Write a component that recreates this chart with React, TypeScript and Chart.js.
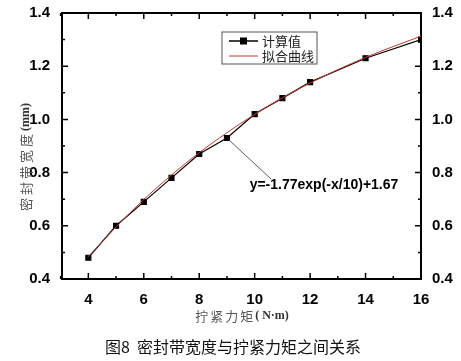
import React, { useEffect, useRef } from "react";
import { Chart, registerables } from "chart.js";

Chart.register(...registerables);

const torque = [4, 5, 6, 7, 8, 9, 10, 11, 12, 14, 16];
const calcWidth = [0.48, 0.6, 0.69, 0.78, 0.87, 0.93, 1.02, 1.08, 1.14, 1.23, 1.3];
const fitWidth = [0.484, 0.596, 0.699, 0.791, 0.875, 0.95, 1.019, 1.081, 1.137, 1.233, 1.313];
const xTicks = [4, 6, 8, 10, 12, 14, 16];
const yTicks = [0.4, 0.6, 0.8, 1.0, 1.2, 1.4];
const legendLabels = ["计算值", "拟合曲线"];
const yTitleCjk = "密封带宽度";
const yTitleUnit = "(mm)";
const xTitleCjk = "拧紧力矩";
const xTitleUnit = "( N·m)";
const caption = "图8  密封带宽度与拧紧力矩之间关系";
const formula = "y=-1.77exp(-x/10)+1.67";

function drawMixed(ctx: any, parts: { t: string; f: string; c: string; ls: number }[], cx: number, cy: number) {
  let total = 0;
  const widths = parts.map((p) => {
    ctx.font = p.f;
    (ctx as any).letterSpacing = p.ls + "px";
    const w = ctx.measureText(p.t).width;
    total += w;
    return w;
  });
  let x = cx - total / 2;
  ctx.textAlign = "left";
  ctx.textBaseline = "middle";
  parts.forEach((p, i) => {
    ctx.font = p.f;
    (ctx as any).letterSpacing = p.ls + "px";
    ctx.fillStyle = p.c;
    ctx.fillText(p.t, x, cy);
    x += widths[i];
  });
  (ctx as any).letterSpacing = "0px";
}

const decor = {
  id: "decor",
  afterDraw(chart: any) {
    const { ctx, chartArea: a, scales } = chart;
    const x = scales.x;
    const y = scales.y;
    ctx.save();
    ctx.strokeStyle = "#000";
    ctx.lineWidth = 1.5;
    for (let v = 3; v <= 16; v += 1) {
      const px = x.getPixelForValue(v);
      const major = xTicks.includes(v);
      const len = major ? 6 : 3;
      ctx.beginPath();
      ctx.moveTo(px, a.bottom);
      ctx.lineTo(px, a.bottom - len);
      ctx.moveTo(px, a.top);
      ctx.lineTo(px, a.top + len);
      ctx.stroke();
    }
    for (let i = 0; i <= 10; i++) {
      const v = 0.4 + i * 0.1;
      const py = y.getPixelForValue(v);
      const len = i % 2 === 0 ? 6 : 3;
      ctx.beginPath();
      ctx.moveTo(a.left, py);
      ctx.lineTo(a.left + len, py);
      ctx.moveTo(a.right, py);
      ctx.lineTo(a.right - len, py);
      ctx.stroke();
    }
    // annotation
    ctx.strokeStyle = "#333";
    ctx.lineWidth = 0.8;
    ctx.beginPath();
    ctx.moveTo(x.getPixelForValue(9.05), y.getPixelForValue(0.925));
    ctx.lineTo(x.getPixelForValue(10.6), y.getPixelForValue(0.775));
    ctx.stroke();
    ctx.fillStyle = "#000";
    ctx.font = "bold 14px 'Liberation Sans', Arial, sans-serif";
    ctx.textAlign = "center";
    ctx.textBaseline = "middle";
    ctx.fillText(formula, x.getPixelForValue(12.5), y.getPixelForValue(0.752));

    // legend
    const lx = 222, ly = 32, lw = 95, lh = 32;
    ctx.strokeStyle = "#555";
    ctx.lineWidth = 1;
    ctx.fillStyle = "#fff";
    ctx.fillRect(lx, ly, lw, lh);
    ctx.strokeRect(lx, ly, lw, lh);
    ctx.strokeStyle = "#000";
    ctx.lineWidth = 1.5;
    ctx.beginPath();
    ctx.moveTo(lx + 7, ly + 9);
    ctx.lineTo(lx + 36, ly + 9);
    ctx.stroke();
    ctx.fillStyle = "#000";
    ctx.fillRect(lx + 18, ly + 5.5, 7, 7);
    ctx.strokeStyle = "#c0392b";
    ctx.lineWidth = 1;
    ctx.beginPath();
    ctx.moveTo(lx + 7, ly + 24);
    ctx.lineTo(lx + 36, ly + 24);
    ctx.stroke();
    ctx.fillStyle = "#222";
    ctx.font = "13px 'Noto Sans CJK SC', sans-serif";
    ctx.textAlign = "left";
    ctx.fillText(legendLabels[0], lx + 40, ly + 9);
    ctx.fillText(legendLabels[1], lx + 40, ly + 24);

    // axis titles
    const cjkFont = "13px 'Noto Sans CJK SC', sans-serif";
    const unitFont = "bold 12px 'Liberation Serif', 'Times New Roman', serif";
    drawMixed(ctx, [
      { t: xTitleCjk, f: cjkFont, c: "#555", ls: 2 },
      { t: xTitleUnit, f: unitFont, c: "#333", ls: 0 },
    ], 242, 316);
    ctx.save();
    ctx.translate(26, 157);
    ctx.rotate(-Math.PI / 2);
    drawMixed(ctx, [
      { t: yTitleCjk, f: cjkFont, c: "#555", ls: 3 },
      { t: yTitleUnit, f: unitFont, c: "#333", ls: 0 },
    ], 0, 0);
    ctx.restore();

    // caption
    ctx.fillStyle = "#111";
    ctx.font = "16px 'Noto Sans CJK SC', sans-serif";
    ctx.textAlign = "center";
    ctx.textBaseline = "middle";
    ctx.fillText(caption, 233, 347);
    ctx.restore();
  },
};

export default function App() {
  const ref = useRef<HTMLCanvasElement>(null);
  useEffect(() => {
    if (!ref.current) return;
    const tickFont = { family: "'Liberation Sans', Arial, sans-serif", size: 15, weight: "bold" as const };
    const chart = new Chart(ref.current, {
      type: "line",
      data: {
        datasets: [
          {
            label: legendLabels[1],
            data: torque.map((t, i) => ({ x: t, y: fitWidth[i] })),
            borderColor: "#c0392b",
            borderWidth: 1,
            pointRadius: 0,
            tension: 0.4,
            cubicInterpolationMode: "monotone",
          },
          {
            label: legendLabels[0],
            data: torque.map((t, i) => ({ x: t, y: calcWidth[i] })),
            borderColor: "#000",
            borderWidth: 1.2,
            pointStyle: "rect",
            pointRadius: 3.5,
            pointBackgroundColor: "#000",
            pointBorderColor: "#000",
          },
        ],
      },
      options: {
        animation: false,
        responsive: false,
        layout: { padding: 0 },
        plugins: { legend: { display: false }, tooltip: { enabled: false } },
        scales: {
          x: {
            type: "linear",
            position: "bottom",
            min: 3.05,
            max: 16,
            afterBuildTicks: (s: any) => { s.ticks = xTicks.map((v) => ({ value: v })); },
            afterFit: (s: any) => { s.height = 82; },
            grid: { display: false },
            border: { display: true, color: "#000", width: 2 },
            ticks: { color: "#000", font: tickFont, padding: 4, maxRotation: 0 },
          },
          x2: {
            type: "linear",
            position: "top",
            min: 3.05,
            max: 16,
            afterFit: (s: any) => { s.height = 12; },
            grid: { display: false },
            border: { display: true, color: "#000", width: 2 },
            ticks: { display: false },
          },
          y: {
            type: "linear",
            position: "left",
            min: 0.4,
            max: 1.4,
            afterBuildTicks: (s: any) => { s.ticks = yTicks.map((v) => ({ value: v })); },
            afterFit: (s: any) => { s.width = 62; },
            grid: { display: false },
            border: { display: true, color: "#000", width: 2 },
            ticks: { color: "#000", font: tickFont, padding: 4, callback: (v: any) => Number(v).toFixed(1) },
          },
          y2: {
            type: "linear",
            position: "right",
            min: 0.4,
            max: 1.4,
            afterBuildTicks: (s: any) => { s.ticks = yTicks.map((v) => ({ value: v })); },
            afterFit: (s: any) => { s.width = 40; },
            grid: { display: false },
            border: { display: true, color: "#000", width: 2 },
            ticks: { color: "#000", font: tickFont, padding: 3, callback: (v: any) => Number(v).toFixed(1) },
          },
        },
      },
      plugins: [decor],
    } as any);
    return () => chart.destroy();
  }, []);
  return (
    <div style={{ position: "fixed", left: 0, top: 0, width: 461, height: 361, background: "#fff" }}>
      <canvas ref={ref} width={461} height={361} />
    </div>
  );
}
